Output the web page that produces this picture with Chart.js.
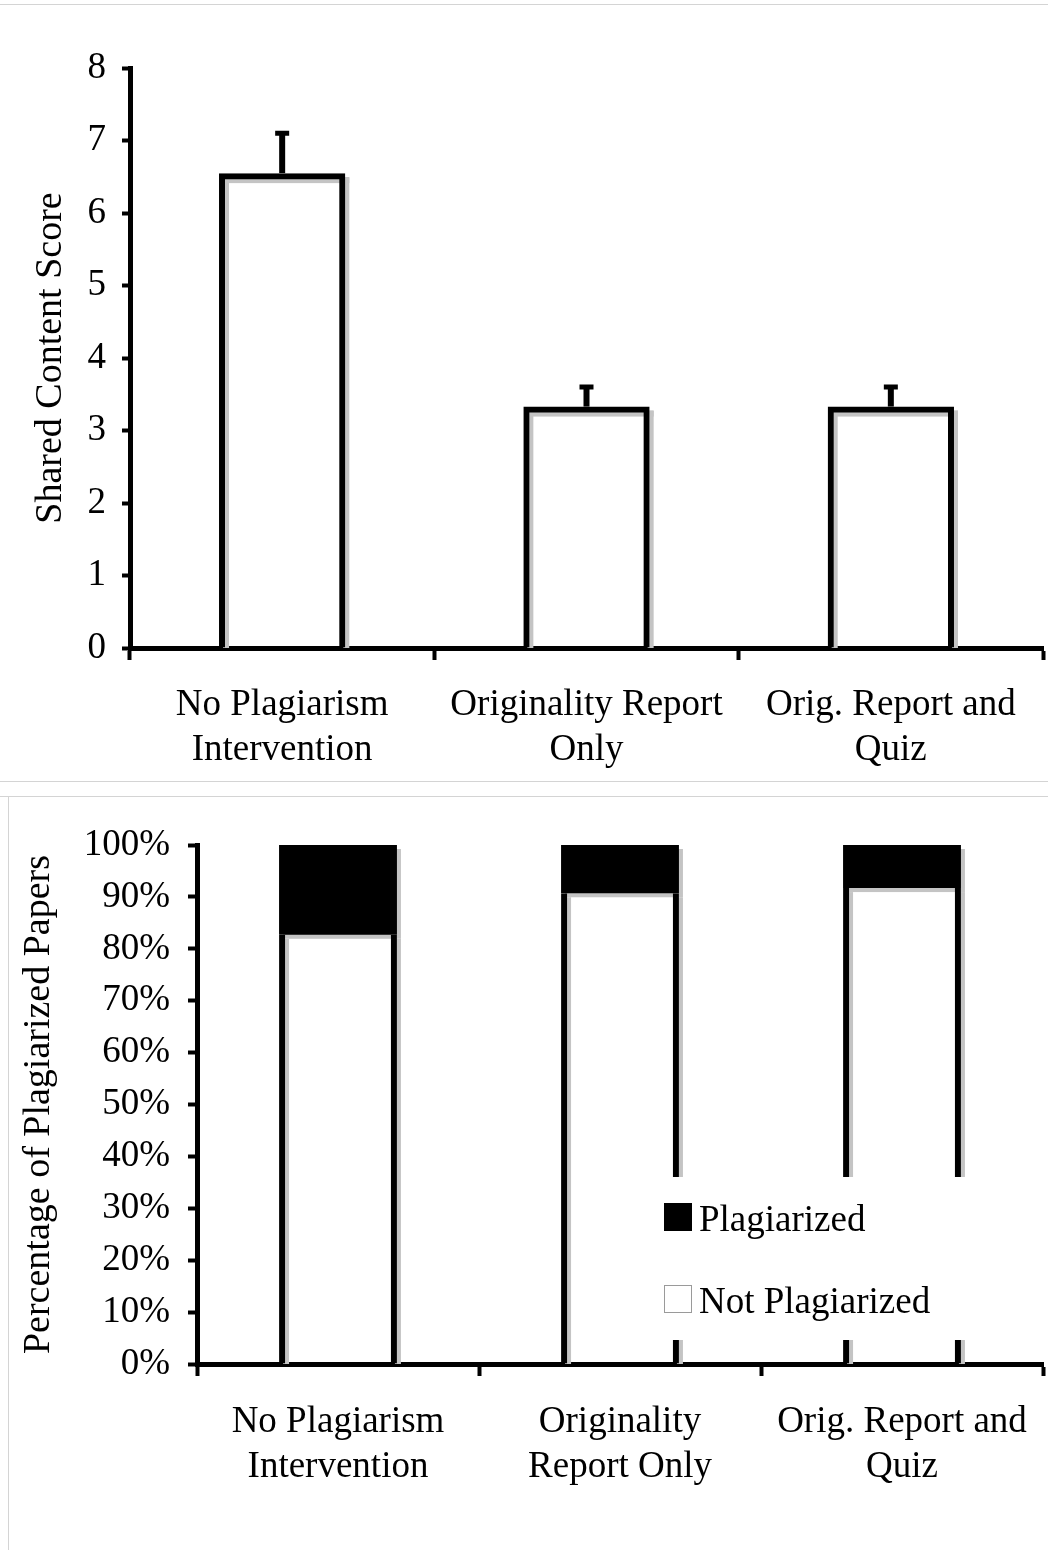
<!DOCTYPE html>
<html>
<head>
<meta charset="utf-8">
<script src="https://cdn.jsdelivr.net/npm/chart.js@4.4.1/dist/chart.umd.min.js"></script>
<style>
  body { margin: 0; background: #fff; }
  #page { position: relative; width: 1048px; height: 1550px; overflow: hidden; background: #fff; }
  #scoreCanvas { position: absolute; left: 0; top: 0; }
  #plagCanvas { position: absolute; left: 0; top: 797px; }
  .rule { position: absolute; background: #d4d4d4; }
</style>
</head>
<body>
<div id="page">
  <canvas id="scoreCanvas" width="1048" height="780"></canvas>
  <canvas id="plagCanvas" width="1048" height="753"></canvas>
  <div class="rule" style="left:0;top:4px;width:1048px;height:1px"></div>
  <div class="rule" style="left:0;top:781px;width:1048px;height:1px"></div>
  <div class="rule" style="left:0;top:796px;width:1048px;height:1px"></div>
  <div class="rule" style="left:8px;top:796px;width:1px;height:754px"></div>
</div>
<script>
// top chart
const scoreLabels = [
  ["No Plagiarism", "Intervention"],
  ["Originality Report", "Only"],
  ["Orig. Report and", "Quiz"],
];
const scoreValues = [6.55, 3.33, 3.33];
const scoreErrorTop = [7.1, 3.6, 3.6];

// bottom chart
const plagLabels = [
  ["No Plagiarism", "Intervention"],
  ["Originality", "Report Only"],
  ["Orig. Report and", "Quiz"],
];
const notPlagiarized = [82.7, 90.7, 91.7];
const plagiarized = [17.3, 9.3, 8.3];

Chart.defaults.font.family = "'Liberation Serif', 'Times New Roman', serif";
Chart.defaults.font.size = 37;
Chart.defaults.color = "#000";
Chart.defaults.animation = false;

const SHADOW = "#c4c4c4";

// grey drop shadow behind each bar, offset down and right
const barShadow = {
  id: "barShadow",
  beforeDatasetsDraw(chart) {
    const ctx = chart.ctx;
    const area = chart.chartArea;
    ctx.save();
    ctx.beginPath();
    ctx.rect(area.left, area.top - 10, area.right - area.left + 10, area.bottom - area.top + 10);
    ctx.clip();
    ctx.fillStyle = SHADOW;
    const off = 4;
    chart.data.datasets.forEach((ds, i) => {
      chart.getDatasetMeta(i).data.forEach((bar) => {
        const { x, y, base, width } = bar.getProps(["x", "y", "base", "width"], true);
        const left = x - width / 2 + off;
        const top = Math.min(y, base) + off;
        const h = Math.abs(base - y);
        if (ds.backgroundColor === "#000") {
          ctx.fillRect(left, top, width, h);
        } else {
          const bw = typeof ds.borderWidth === "object" ? ds.borderWidth : { left: ds.borderWidth, right: ds.borderWidth, top: ds.borderWidth };
          if (bw.left) ctx.fillRect(left, top, bw.left, h);
          if (bw.right) ctx.fillRect(left + width - bw.right, top, bw.right, h);
          if (bw.top) ctx.fillRect(left, top, width, bw.top);
        }
      });
    });
    ctx.restore();
  },
};

const errorBars = {
  id: "errorBars",
  afterDatasetsDraw(chart) {
    const ctx = chart.ctx;
    const yScale = chart.scales.y;
    const meta = chart.getDatasetMeta(0);
    ctx.save();
    ctx.fillStyle = "#000";
    meta.data.forEach((bar, i) => {
      const yTop = yScale.getPixelForValue(scoreErrorTop[i]);
      const yVal = yScale.getPixelForValue(scoreValues[i]);
      ctx.fillRect(bar.x - 3, yTop, 6, yVal - yTop);
      ctx.fillRect(bar.x - 7, yTop - 2.5, 14, 5);
    });
    ctx.restore();
  },
};

const legendBox = {
  id: "legendBox",
  afterDatasetsDraw(chart) {
    const ctx = chart.ctx;
    const a = chart.chartArea;
    const bx = a.left + 458, by = a.top + 332;
    ctx.save();
    ctx.fillStyle = "#fff";
    ctx.fillRect(bx, by, 320, 163);
    ctx.font = "37px 'Liberation Serif', serif";
    ctx.textBaseline = "middle";
    const items = chart.data.datasets.slice().reverse();
    items.forEach((ds, i) => {
      const sy = by + 26 + i * 82;
      ctx.fillStyle = ds.backgroundColor;
      ctx.fillRect(bx + 9, sy, 28, 28);
      if (ds.backgroundColor !== "#000") {
        ctx.strokeStyle = "#9a9a9a";
        ctx.lineWidth = 1;
        ctx.strokeRect(bx + 9.5, sy + 0.5, 27, 27);
      }
      ctx.fillStyle = "#000";
      ctx.fillText(ds.label, bx + 44, sy + 18);
    });
    ctx.restore();
  },
};

function axisCommon() {
  return {
    border: { display: true, color: "#000", width: 5 },
  };
}

// keep the plot edges fixed, labels may hang over
function fixX(h) {
  return (s) => {
    s.height = h;
    s.paddingLeft = 0;
    s.paddingRight = 0;
  };
}

new Chart(document.getElementById("scoreCanvas"), {
  type: "bar",
  data: {
    labels: scoreLabels,
    datasets: [
      {
        label: "Shared Content Score",
        data: scoreValues,
        backgroundColor: "rgba(255,255,255,0)",
        borderColor: "#000",
        borderWidth: 6,
        barPercentage: 0.415,
        categoryPercentage: 1,
      },
    ],
  },
  options: {
    responsive: false,
    layout: { padding: { top: 68, right: 5, bottom: 12, left: 0 } },
    plugins: { legend: { display: false }, tooltip: { enabled: false } },
    scales: {
      x: {
        ...axisCommon(),
        grid: { offset: true, drawOnChartArea: false, drawTicks: true, tickLength: 12, tickWidth: 4, tickColor: "#000" },
        ticks: { padding: 23, maxRotation: 0, font: { lineHeight: 1.22 } },
        afterFit: fixX(120),
      },
      y: {
        ...axisCommon(),
        min: 0,
        max: 8,
        grid: { drawOnChartArea: false, drawTicks: true, tickLength: 8, tickWidth: 4, tickColor: "#000" },
        ticks: { stepSize: 1, padding: 16 },
        title: { display: true, text: "Shared Content Score", font: { size: 38 }, padding: { top: 28, bottom: 0 } },
        afterFit(s) { s.width = 130; },
      },
    },
  },
  plugins: [barShadow, errorBars],
});

new Chart(document.getElementById("plagCanvas"), {
  type: "bar",
  data: {
    labels: plagLabels,
    datasets: [
      {
        label: "Not Plagiarized",
        data: notPlagiarized,
        backgroundColor: "rgba(255,255,255,0)",
        borderColor: "#000",
        borderWidth: { left: 6, right: 6, top: 0, bottom: 0 },
        barPercentage: 0.418,
        categoryPercentage: 1,
      },
      {
        label: "Plagiarized",
        data: plagiarized,
        backgroundColor: "#000",
        borderWidth: 0,
        barPercentage: 0.418,
        categoryPercentage: 1,
      },
    ],
  },
  options: {
    responsive: false,
    layout: { padding: { top: 48, right: 5, bottom: 12, left: 0 } },
    plugins: { legend: { display: false }, tooltip: { enabled: false } },
    scales: {
      x: {
        ...axisCommon(),
        stacked: true,
        grid: { offset: true, drawOnChartArea: false, drawTicks: true, tickLength: 12, tickWidth: 4, tickColor: "#000" },
        ticks: { padding: 24, maxRotation: 0, font: { lineHeight: 1.22 } },
        afterFit: fixX(174),
      },
      y: {
        ...axisCommon(),
        stacked: true,
        min: 0,
        max: 100,
        grid: { drawOnChartArea: false, drawTicks: true, tickLength: 9, tickWidth: 4, tickColor: "#000" },
        ticks: { stepSize: 10, padding: 18, callback: (v) => v + "%" },
        title: { display: true, text: "Percentage of Plagiarized Papers", font: { size: 38 }, padding: { top: 16, bottom: 0 } },
        afterFit(s) { s.width = 197; },
      },
    },
  },
  plugins: [barShadow, legendBox],
});
</script>
</body>
</html>
